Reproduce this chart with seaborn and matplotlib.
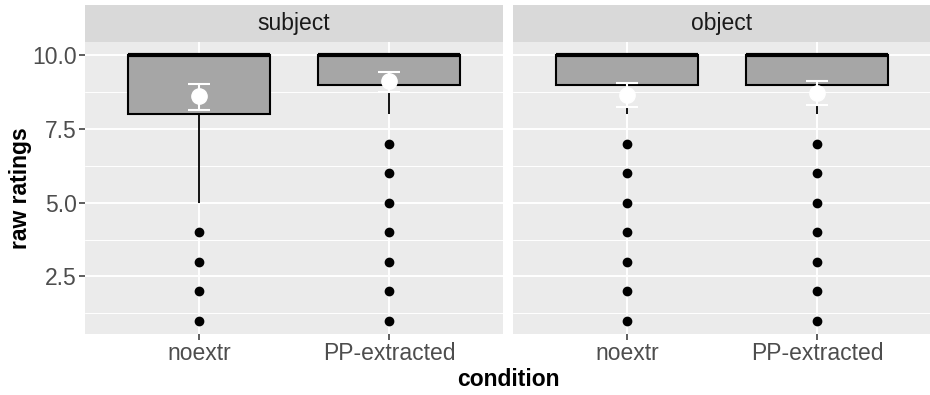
import numpy as np
import pandas as pd
import matplotlib
matplotlib.use("Agg")
import matplotlib.pyplot as plt
import seaborn as sns

# ---- data ----
panels = ["subject", "object"]
conditions = ["noextr", "PP-extracted"]
ratings = [1, 2, 3, 4, 5, 6, 7, 8, 9, 10]
# counts of each rating per panel/condition (estimated to reproduce the boxes)
counts_subject_noextr = [1, 1, 1, 1, 1, 1, 1, 8, 4, 21]
counts_subject_pp = [1, 1, 1, 1, 1, 1, 1, 3, 10, 30]
counts_object_noextr = [1, 1, 1, 1, 1, 1, 1, 2, 10, 25]
counts_object_pp = [1, 1, 1, 1, 1, 1, 1, 2, 9, 26]
# mean and CI (white markers)
mean_subject = [8.62, 9.12]
lo_subject = [8.15, 8.74]
hi_subject = [9.04, 9.43]
mean_object = [8.67, 8.73]
lo_object = [8.24, 8.30]
hi_object = [9.07, 9.12]
yticks = [2.5, 5.0, 7.5, 10.0]
ytick_labels = ["2.5", "5.0", "7.5", "10.0"]

rows = []
for panel, cond, cnts in [
    ("subject", "noextr", counts_subject_noextr),
    ("subject", "PP-extracted", counts_subject_pp),
    ("object", "noextr", counts_object_noextr),
    ("object", "PP-extracted", counts_object_pp),
]:
    for r, c in zip(ratings, cnts):
        rows += [{"panel": panel, "condition": cond, "rating": r}] * c
df = pd.DataFrame(rows)

means = {"subject": (mean_subject, lo_subject, hi_subject),
         "object": (mean_object, lo_object, hi_object)}

sns.set_theme(style="darkgrid")
plt.rcParams["font.family"] = ["Liberation Sans", "DejaVu Sans"]

W, H = 930, 395
fig = plt.figure(figsize=(W / 100, H / 100), dpi=100)
fig.patch.set_facecolor("white")

panel_x = [(85, 418), (513, 418)]
top_px, bot_px = 42, 334
strip_top = 5
FS = 16.5

for i, panel in enumerate(panels):
    x0, w = panel_x[i]
    ax = fig.add_axes([x0 / W, (H - bot_px) / H, w / W, (bot_px - top_px) / H])
    ax.set_facecolor("#EBEBEB")
    sub = df[df["panel"] == panel]
    sns.boxplot(data=sub, x="condition", y="rating", order=conditions, ax=ax,
                color="#A6A6A6", saturation=1, width=0.75, linecolor="black",
                linewidth=1.5, showcaps=False,
                flierprops=dict(marker="o", markerfacecolor="black",
                                markeredgecolor="black", markersize=6),
                medianprops=dict(linewidth=3, color="black"),
                whiskerprops=dict(linewidth=1.3, color="black"),
                zorder=3)
    m, lo, hi = means[panel]
    xs = np.arange(len(conditions))
    ax.errorbar(xs, m, yerr=[np.array(m) - np.array(lo), np.array(hi) - np.array(m)],
                fmt="none", ecolor="white", elinewidth=1.5, capsize=8.2,
                capthick=1.5, zorder=5)
    ax.plot(xs, m, "o", color="white", markersize=11, zorder=6)

    ax.set_xlim(-0.6, 1.6)
    ax.set_ylim(0.55, 10.45)
    ax.set_yticks(yticks)
    ax.set_yticks([1.25, 3.75, 6.25, 8.75], minor=True)
    ax.grid(True, which="major", color="white", linewidth=1.4)
    ax.grid(True, which="minor", axis="y", color="white", linewidth=0.7)
    ax.set_axisbelow(True)
    for s in ax.spines.values():
        s.set_visible(False)
    ax.set_xlabel("")
    ax.set_ylabel("")
    ax.tick_params(axis="both", which="major", length=4, width=1.1, color="#333333",
                   labelcolor="#4D4D4D", labelsize=FS, pad=2, bottom=True, left=(i == 0))
    ax.tick_params(axis="y", which="minor", length=0)
    if i == 0:
        ax.set_yticklabels(ytick_labels)
    else:
        ax.set_yticklabels([])

    sax = fig.add_axes([x0 / W, (H - top_px) / H, w / W, (top_px - strip_top) / H])
    sax.set_facecolor("#D9D9D9")
    sax.set_xticks([])
    sax.set_yticks([])
    for s in sax.spines.values():
        s.set_visible(False)
    sax.text(0.5, 0.5, panel, ha="center", va="center", fontsize=FS,
             color="#1A1A1A", transform=sax.transAxes)

fig.text(508 / W, 1 - 380 / H, "condition", ha="center", va="center",
         fontsize=FS, fontweight="bold", color="black")
fig.text(21 / W, 1 - 188 / H, "raw ratings", ha="center", va="center",
         rotation=90, fontsize=FS, fontweight="bold", color="black")

fig.savefig("out.png", dpi=100, facecolor="white")
